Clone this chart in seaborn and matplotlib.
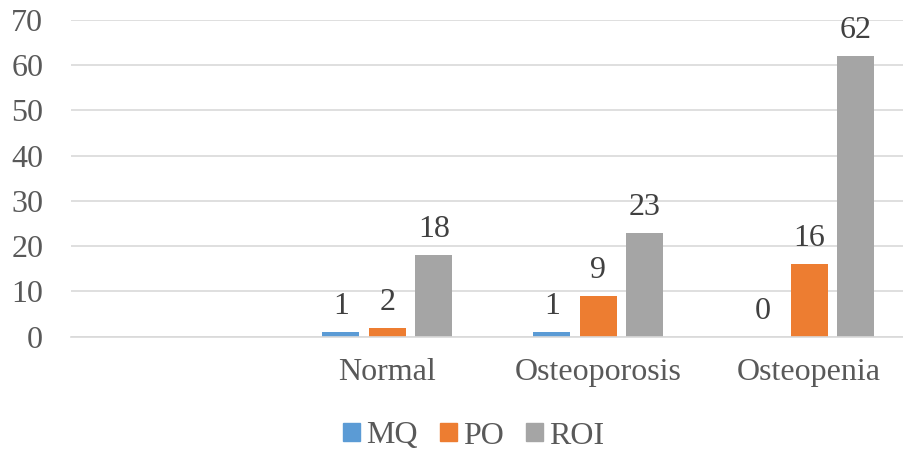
import pandas as pd
import matplotlib.pyplot as plt
import seaborn as sns

# values
categories = ["", "Normal", "Osteoporosis", "Osteopenia"]
groups = ["Normal", "Osteoporosis", "Osteopenia"]
series = ["MQ", "PO", "ROI"]
mq = [1, 1, 0]
po = [2, 9, 16]
roi = [18, 23, 62]
colors = ["#5B9BD5", "#ED7D31", "#A5A5A5"]

rows = []
for name, vals in zip(series, [mq, po, roi]):
    for g, v in zip(groups, vals):
        rows.append({"Group": g, "Series": name, "Count": v})
df = pd.DataFrame(rows)

sns.set_style("white")
plt.rcParams["font.family"] = ["Liberation Serif", "DejaVu Serif"]

fig = plt.figure(figsize=(9.04, 4.53), dpi=100)
ax = fig.add_axes([71 / 904, 1 - 336.7 / 453, 843.5 / 904, 316.7 / 453])

sns.barplot(data=df, x="Group", y="Count", hue="Series", order=categories,
            hue_order=series, palette=colors, width=0.66, gap=0.2,
            saturation=1, linewidth=0, ax=ax)

for cont in ax.containers:
    ax.bar_label(cont, fmt="%g", padding=8, fontsize=23, color="#404040")

ax.set_xlim(-0.5, 3.5)
ax.set_ylim(0, 70)
ax.set_yticks(range(0, 71, 10))
ax.yaxis.grid(True, color="#D9D9D9", linewidth=1.2)
ax.set_axisbelow(True)
for s in ["top", "right", "left"]:
    ax.spines[s].set_visible(False)
ax.spines["bottom"].set_color("#D9D9D9")
ax.spines["bottom"].set_linewidth(1.2)
ax.tick_params(axis="y", length=0, pad=20, labelsize=23, labelcolor="#595959")
ax.tick_params(axis="x", length=0, pad=15, labelsize=23, labelcolor="#595959")
ax.set_xlabel("")
ax.set_ylabel("")

ax.legend_.remove()
handles = [plt.Rectangle((0, 0), 1, 1, color=c) for c in colors]
leg = fig.legend(handles, series, loc="center", bbox_to_anchor=(474 / 904, 1 - 436 / 453),
                 ncol=3, frameon=False, fontsize=23, handlelength=0.52, handleheight=0.52,
                 handletextpad=0.2, columnspacing=0.7, borderaxespad=0, borderpad=0)
for t in leg.get_texts():
    t.set_color("#595959")

fig.savefig("out.png", dpi=100)
